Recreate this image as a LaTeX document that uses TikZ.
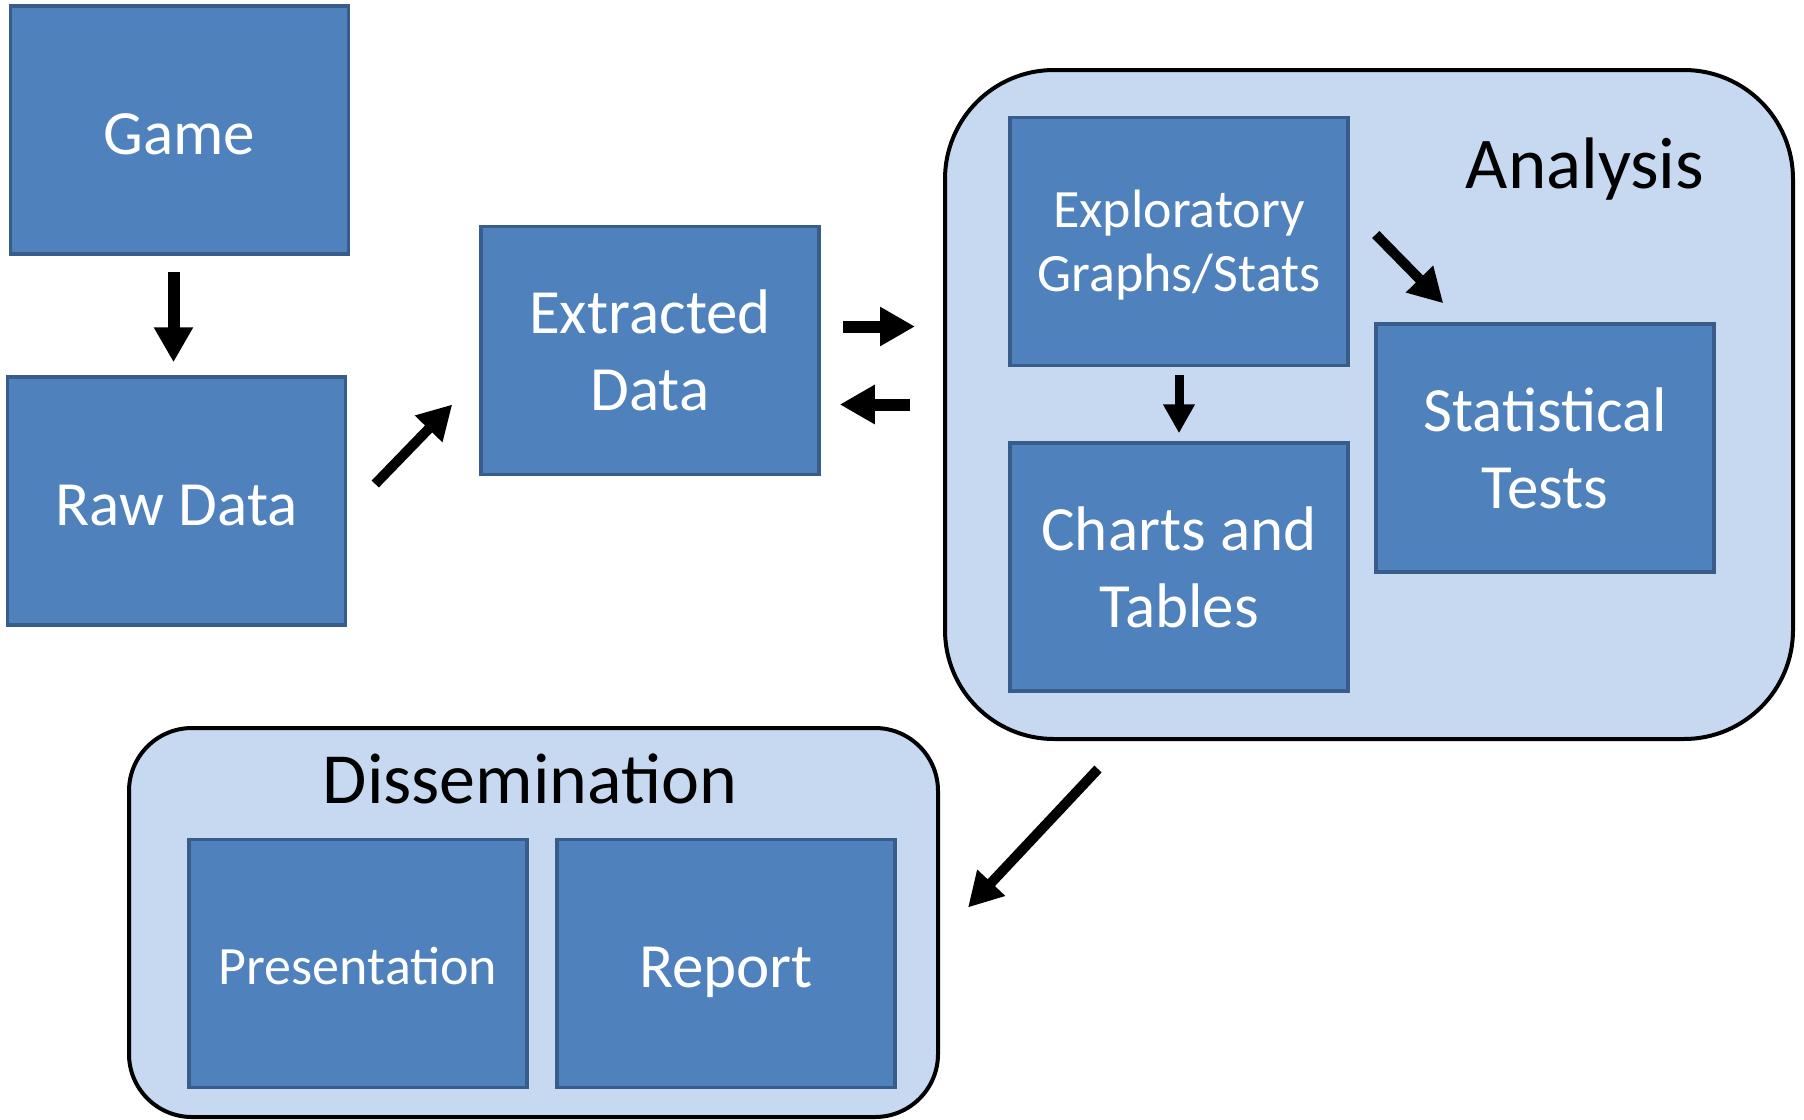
\documentclass[tikz,border=0pt]{standalone}
\usepackage{fontspec}
\setmainfont{Carlito}
\usetikzlibrary{arrows.meta}

\definecolor{boxfill}{HTML}{4F81BD}
\definecolor{boxline}{HTML}{385D8A}
\definecolor{groupfill}{HTML}{C6D9F0}

\tikzset{
    bigtext/.style={font=\fontsize{63}{77}\selectfont},
    smalltext/.style={font=\fontsize{54}{64}\selectfont},
    bigline/.style={bigtext, text height=64pt, text depth=16pt},
    smallline/.style={smalltext, text height=56pt, text depth=13.5pt},
    bigarrow/.style={draw=black, line width=12pt, -{Triangle[width=37pt,length=35pt]}},
    midarrow/.style={draw=black, line width=10pt, -{Triangle[width=36pt,length=34pt]}},
    smallarrow/.style={draw=black, line width=9pt, -{Triangle[width=30pt,length=29pt]}},
}

\begin{document}
\begin{tikzpicture}[x=1pt, y=-1pt]
        \useasboundingbox (0, 0) rectangle (1804, 1119);
        % grouping panels
        \begin{scope}[every node/.style={rectangle, draw=black, line width=4pt, fill=groupfill, inner sep=0pt}]
            \node (analysis) [minimum width=848pt, minimum height=669pt, rounded corners=109pt] at (1369, 404.5) {};
            \node (dissem) [minimum width=809pt, minimum height=389pt, rounded corners=63pt] at (533.5, 922.5) {};
        \end{scope}
        \node (analysislabel) [font=\fontsize{73}{88}\selectfont] at (1585, 169) {Analysis};
        \node (dissemlabel) [font=\fontsize{72}{86}\selectfont] at (530, 779) {Dissemination};
        % blue steps
        \begin{scope}[every node/.style={rectangle, draw=boxline, line width=3.5pt, fill=boxfill, text=white, align=center, minimum width=338pt, minimum height=248pt, inner sep=0pt}]
            \node (game) [bigline] at (179.5, 130) {Game};
            \node (rawdata) [bigline] at (176.5, 501) {Raw Data};
            \node (extracted) [bigtext] at (650, 350.5) {Extracted\\Data};
            \node (explore) [smalltext, text depth=2pt] at (1179, 241.5) {Exploratory\\Graphs/Stats};
            \node (charts) [bigtext] at (1179, 567) {Charts and\\Tables};
            \node (stattests) [bigtext] at (1545, 448) {Statistical\\Tests};
            \node (present) [smallline] at (358, 963.5) {Presentation};
            \node (report) [bigline] at (726, 963.5) {Report};
        \end{scope}
        % flow arrows
        \path ([xshift=-6pt]game.south) edge[bigarrow, shorten <=16pt, shorten >=13pt] ([xshift=-3pt]rawdata.north);
        \path ([xshift=28pt, yshift=17pt]rawdata.east) edge[midarrow] ([xshift=-27pt, yshift=-54pt]extracted.west);
        \path ([xshift=22pt, yshift=24pt]extracted.east) edge[bigarrow] ([xshift=-28pt, yshift=78pt]analysis.west);
        \path ([xshift=-33pt]analysis.west) edge[bigarrow] ([xshift=19pt, yshift=-54pt]extracted.east);
        \path (explore.south) edge[smallarrow, shorten <=8pt, shorten >=8pt] (charts.north);
        \path ([xshift=26pt, yshift=7pt]explore.east) edge[midarrow] ([xshift=69pt, yshift=19pt]stattests.north west);
        \path ([xshift=155pt, yshift=-28pt]analysis.south west) edge[midarrow] ([xshift=28pt, yshift=15pt]dissem.east);
    \end{tikzpicture}
\end{document}
